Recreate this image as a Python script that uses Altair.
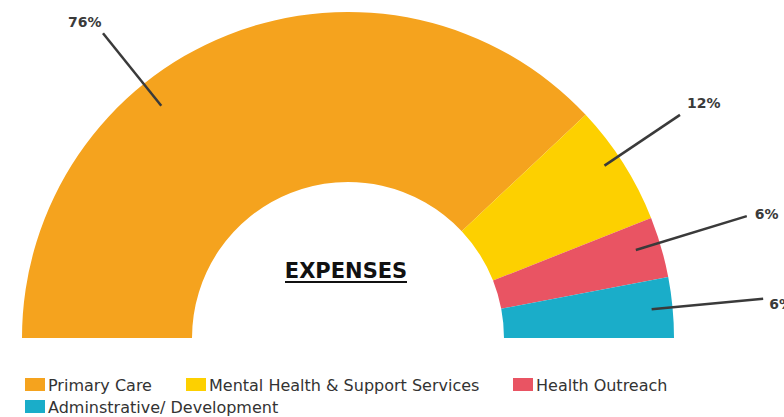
import math
import numpy as np
import pandas as pd
import altair as alt

# ---- data ----
categories = ["Primary Care", "Mental Health & Support Services",
              "Health Outreach", "Adminstrative/ Development"]
values = [76, 12, 6, 6]
pct_labels = ["76%", "12%", "6%", "6%"]
colors = ["#F5A31E", "#FDD000", "#E95463", "#1AADC9"]
title_text = "EXPENSES"

# ---- layout constants ----
CX, CY = 348, 338
R_IN, R_OUT = 156, 326
label_shift = [17.2, 1.5, 0.8, 0.0]       # degrees added to slice mid-angle
line_r0 = [298, 309, 301, 305]
line_r1 = [391, 400, 417, 417]
label_dx = [-35, 7, 8, 6]
label_dy = [-10.5, -10.5, -1, 6.5]
legend_x = [25, 186, 513, 25]
legend_y = [378, 378, 378, 400]

df = pd.DataFrame({"category": categories, "value": values,
                   "label": pct_labels, "order": list(range(len(values)))})
total = float(sum(values))
vals = np.array(values, dtype=float)
cum = np.concatenate([[0.0], np.cumsum(vals)[:-1]])
mid = (cum + vals / 2) / total
ang = np.radians(180 - mid * 180 + np.array(label_shift))
r0 = np.array(line_r0, dtype=float)
r1 = np.array(line_r1, dtype=float)
df["x0"] = CX + r0 * np.cos(ang)
df["y0"] = CY - r0 * np.sin(ang)
df["x1"] = CX + r1 * np.cos(ang)
df["y1"] = CY - r1 * np.sin(ang)
df["tx"] = df["x1"] + np.array(label_dx)
df["ty"] = df["y1"] + np.array(label_dy)

leg = pd.DataFrame({"category": categories,
                    "lx": legend_x, "ly": legend_y})
leg["lx2"] = leg["lx"] + 20
leg["ly2"] = leg["ly"] + 13
leg["tx"] = leg["lx"] + 23
leg["ty"] = leg["ly"] + 13

color = alt.Color("category:N", scale=alt.Scale(domain=categories, range=colors), legend=None)

arc = alt.Chart(df).mark_arc(innerRadius=R_IN, outerRadius=R_OUT, x=CX, y=CY).encode(
    theta=alt.Theta("value:Q", stack=True,
                    scale=alt.Scale(domain=[0, total], range=[-math.pi / 2, math.pi / 2])),
    color=color,
    order=alt.Order("order:Q"),
)

rules = alt.Chart(df).mark_rule(color="#3a3a3a", strokeWidth=2.5).encode(
    x=alt.X("x0:Q", scale=None, axis=None),
    y=alt.Y("y0:Q", scale=None, axis=None),
    x2="x1:Q", y2="y1:Q",
)

labels = alt.Chart(df).mark_text(align="left", baseline="middle", font="DejaVu Sans",
                                 fontSize=14, fontWeight="bold", color="#3a3a3a").encode(
    x=alt.X("tx:Q", scale=None, axis=None),
    y=alt.Y("ty:Q", scale=None, axis=None),
    text="label:N",
)

title = alt.Chart(pd.DataFrame({"t": [title_text]})).mark_text(
    align="center", baseline="alphabetic", font="DejaVu Sans", fontSize=21,
    fontWeight="bold", color="#111111").encode(
    x=alt.value(346), y=alt.value(278), text="t:N")

underline = alt.Chart(pd.DataFrame({"t": [title_text]})).mark_rule(
    color="#111111", strokeWidth=2).encode(
    x=alt.value(285), x2=alt.value(407), y=alt.value(282))

leg_rect = alt.Chart(leg).mark_rect().encode(
    x=alt.X("lx:Q", scale=None, axis=None), x2="lx2:Q",
    y=alt.Y("ly:Q", scale=None, axis=None), y2="ly2:Q",
    color=color,
)

leg_text = alt.Chart(leg).mark_text(align="left", baseline="alphabetic", font="DejaVu Sans",
                                    fontSize=16, color="#333333").encode(
    x=alt.X("tx:Q", scale=None, axis=None),
    y=alt.Y("ty:Q", scale=None, axis=None),
    text="category:N",
)

chart = alt.layer(arc, rules, labels, title, underline, leg_rect, leg_text).properties(
    width=784, height=417, autosize="none", padding=0,
).configure_view(stroke=None)

chart.save("out.html", embed_options={"renderer": "svg", "actions": False})
